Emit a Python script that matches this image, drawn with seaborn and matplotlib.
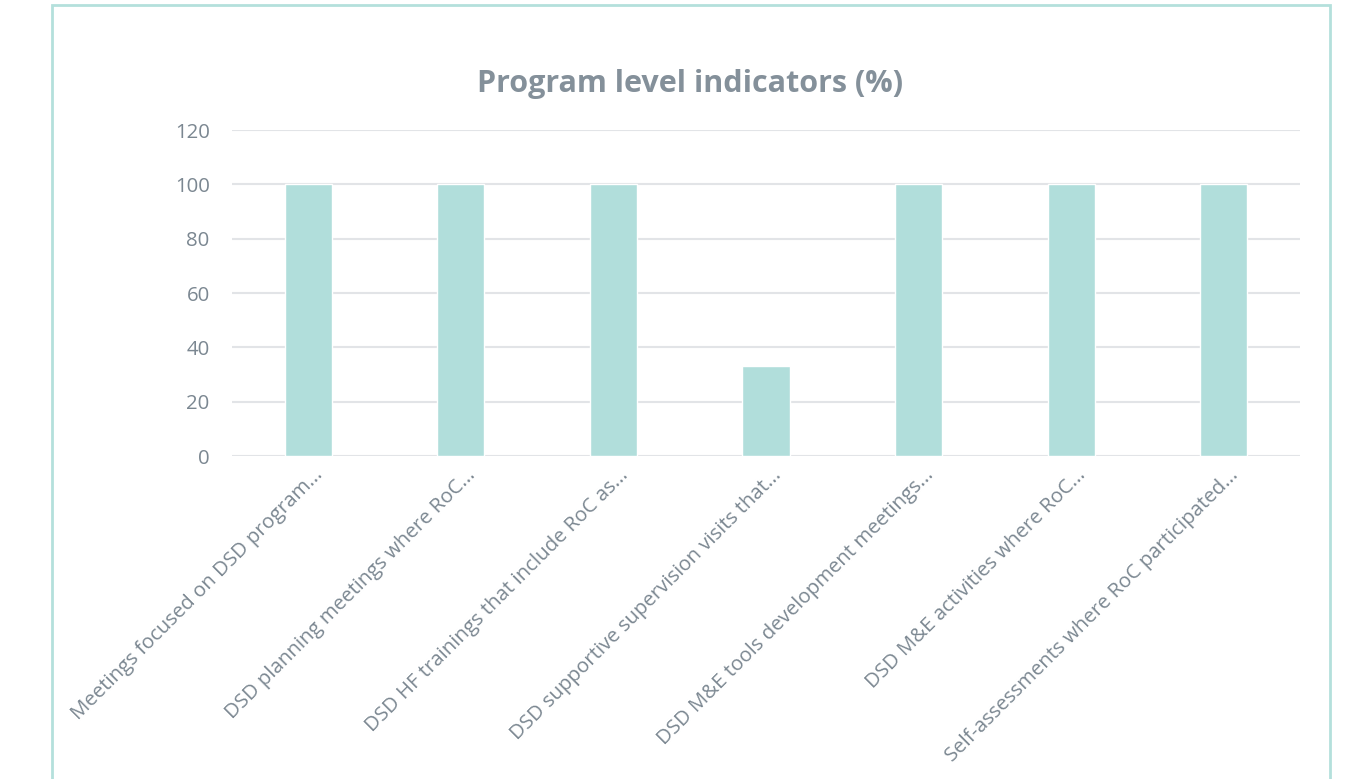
import matplotlib
matplotlib.use("Agg")
import matplotlib.pyplot as plt
import matplotlib.patches as mpatches
import matplotlib.transforms as mtrans
import seaborn as sns
import pandas as pd

# data
labels = [
    "Meetings focused on DSD program...",
    "DSD planning meetings where RoC...",
    "DSD HF trainings that include RoC as...",
    "DSD supportive supervision visits that...",
    "DSD M&E tools development meetings...",
    "DSD M&E activities where RoC...",
    "Self-assessments where RoC participated...",
]
values = [100, 100, 100, 33, 100, 100, 100]

df = pd.DataFrame({"Indicator": labels, "Percent": values})

sns.set_style("white")
plt.rcParams['font.family'] = ['Open Sans', 'DejaVu Sans']

txt = "#7b8791"
bar_col = "#b1dedb"
grid_col = "#e2e4e7"

fig = plt.figure(figsize=(13.62, 7.79), dpi=100)
ax = fig.add_axes([0.1703, 0.4146, 0.7842, 0.4185])

sns.barplot(data=df, x="Indicator", y="Percent", color=bar_col, width=0.31,
            saturation=1, ax=ax, zorder=3)

ax.set_ylim(0, 120)
ax.set_xlim(-0.5, 6.5)
ax.set_yticks(range(0, 121, 20))
ax.yaxis.grid(True, color=grid_col, linewidth=1.5, zorder=0)
ax.set_axisbelow(True)
for s in ax.spines.values():
    s.set_visible(False)
ax.tick_params(axis="both", length=0, colors=txt, labelsize=14.7)
ax.tick_params(axis="y", pad=16)
ax.set_xlabel("")
ax.set_ylabel("")
ax.set_xticks(range(len(labels)))
ax.set_xticklabels(labels, rotation=45, ha="right", va="center",
                   rotation_mode="anchor", color=txt, fontsize=14.7)
ax.tick_params(axis="x", pad=0)
shift = mtrans.ScaledTranslation(0.12, -0.16, fig.dpi_scale_trans)
for t in ax.get_xticklabels():
    t.set_transform(t.get_transform() + shift)

fig.suptitle("Program level indicators (%)", x=0.507, y=0.911, fontsize=22,
             fontweight="bold", color="#84909a")

# chart area border
border = mpatches.Rectangle((0.0385, -0.02), 0.938, 1.013, transform=fig.transFigure,
                            fill=False, edgecolor="#b4e0dc", linewidth=2)
fig.patches.append(border)

fig.savefig("out.png", dpi=100, facecolor="white")
